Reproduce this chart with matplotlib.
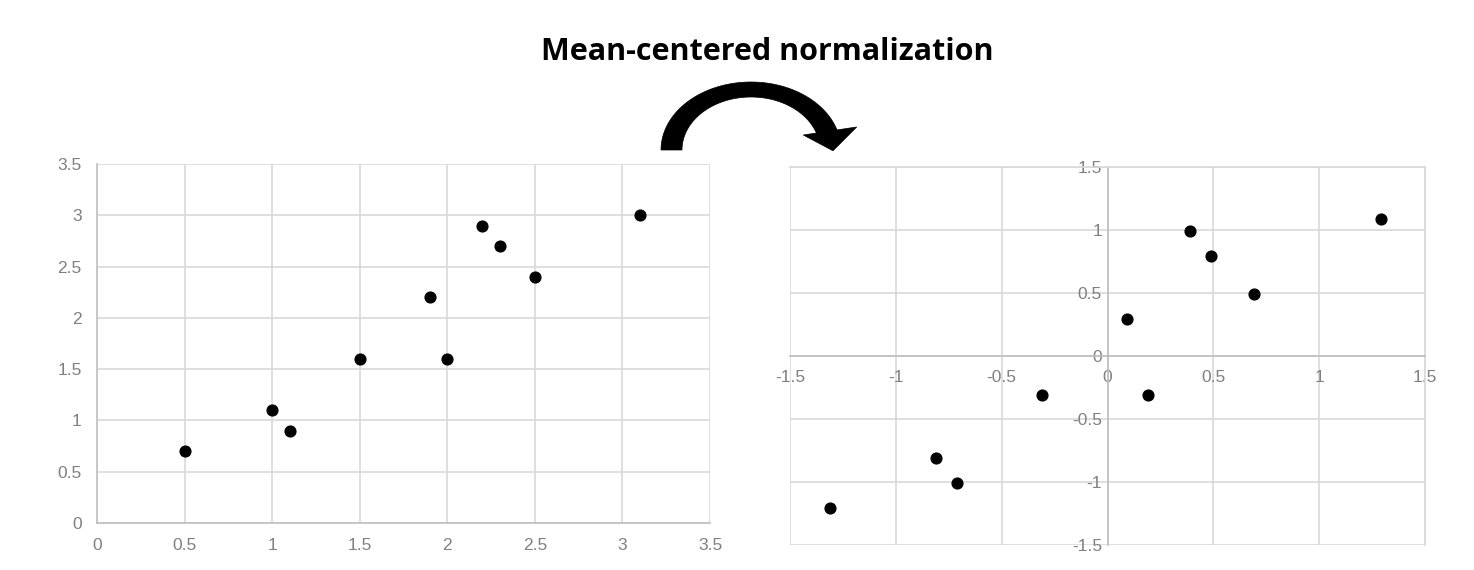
import numpy as np
import matplotlib.pyplot as plt
from matplotlib.patches import Polygon

# original data
x_raw = [0.5, 1.0, 1.1, 1.5, 1.9, 2.0, 2.2, 2.3, 2.5, 3.1]
y_raw = [0.7, 1.1, 0.9, 1.6, 2.2, 1.6, 2.9, 2.7, 2.4, 3.0]

# mean-centered data
x_ctr = [-1.31, -0.81, -0.71, -0.31, 0.09, 0.19, 0.39, 0.49, 0.69, 1.29]
y_ctr = [-1.21, -0.81, -1.01, -0.31, 0.29, -0.31, 0.99, 0.79, 0.49, 1.09]

raw_ticks = [0, 0.5, 1, 1.5, 2, 2.5, 3, 3.5]
ctr_ticks = [-1.5, -1, -0.5, 0, 0.5, 1, 1.5]

W, H = 1474, 570
fig = plt.figure(figsize=(W / 100, H / 100), dpi=100)
plt.rcParams['font.family'] = ['Liberation Sans', 'DejaVu Sans']

grid_c = '#d9d9d9'
axis_c = '#bfbfbf'
text_c = '#808080'
tick_fs = 12.5


def fmt(v):
    return '%g' % v


def px_axes(l, t, r, b):
    return fig.add_axes([l / W, 1 - b / H, (r - l) / W, (b - t) / H])


# left panel
ax1 = px_axes(97, 164, 710, 523)
ax1.scatter(x_raw, y_raw, s=60, c='black', zorder=5, clip_on=False)
ax1.set_xlim(0, 3.5)
ax1.set_ylim(0, 3.5)
ax1.set_xticks(raw_ticks)
ax1.set_yticks(raw_ticks)
ax1.set_xticklabels([fmt(v) for v in raw_ticks])
ax1.set_yticklabels([fmt(v) for v in raw_ticks])
ax1.grid(True, color=grid_c, lw=1.2)
ax1.set_axisbelow(True)
for s in ['top', 'right']:
    ax1.spines[s].set_visible(False)
for s in ['left', 'bottom']:
    ax1.spines[s].set_color(axis_c)
    ax1.spines[s].set_linewidth(1.2)
ax1.tick_params(axis='x', length=0, pad=11, labelsize=tick_fs, labelcolor=text_c)
ax1.tick_params(axis='y', length=0, pad=11, labelsize=tick_fs, labelcolor=text_c)

# right panel
ax2 = px_axes(790, 167, 1425, 545)
ax2.scatter(x_ctr, y_ctr, s=60, c='black', zorder=5, clip_on=False)
ax2.set_xlim(-1.5, 1.5)
ax2.set_ylim(-1.5, 1.5)
ax2.set_xticks(ctr_ticks)
ax2.set_yticks(ctr_ticks)
ax2.set_xticklabels([fmt(v) for v in ctr_ticks])
ax2.set_yticklabels([fmt(v) for v in ctr_ticks])
ax2.grid(True, color=grid_c, lw=1.2)
ax2.set_axisbelow(True)
for s in ['left', 'bottom']:
    ax2.spines[s].set_position('zero')
    ax2.spines[s].set_color(axis_c)
    ax2.spines[s].set_linewidth(1.2)
for s in ['top', 'right']:
    ax2.spines[s].set_color(grid_c)
    ax2.spines[s].set_linewidth(1.2)
ax2.tick_params(axis='x', length=0, pad=10, labelsize=tick_fs, labelcolor=text_c)
ax2.tick_params(axis='y', length=0, pad=4, labelsize=tick_fs, labelcolor=text_c)

# title
fig.text(767 / W, 1 - 52 / H, 'Mean-centered normalization', ha='center', va='center',
         fontsize=22, fontweight='bold', family=['Open Sans', 'DejaVu Sans'])

# curved arrow, built in pixel space (y measured from the top)
cx, cy = 751, 150
th = np.radians(np.linspace(180, 15, 80))
outer = np.c_[cx + 90 * np.cos(th), cy - 68 * np.sin(th)]
inner = np.c_[cx + 69 * np.cos(th), cy - 53 * np.sin(th)]
shaft = np.vstack([outer, inner[::-1]])

mid = np.array([830.0, 131.0])
tang = np.array([0.15, 1.0])
tang /= np.hypot(*tang)
norm = np.array([-tang[1], tang[0]])
head = np.array([mid + norm * 27, mid - norm * 27, mid + tang * 20])


def to_fig(pts):
    return np.c_[pts[:, 0] / W, 1 - pts[:, 1] / H]


for pts in (shaft, head):
    fig.patches.append(Polygon(to_fig(pts), closed=True, transform=fig.transFigure,
                               facecolor='black', edgecolor='black', lw=0.5))

plt.savefig('out.png', dpi=100)
